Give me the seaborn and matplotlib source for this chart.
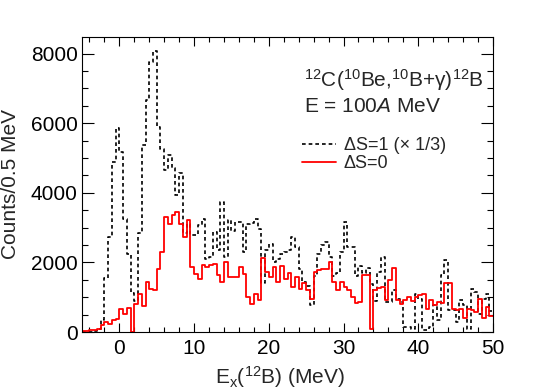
import numpy as np
import pandas as pd
import seaborn as sns
import matplotlib
matplotlib.use("Agg")
import matplotlib.pyplot as plt
from matplotlib.lines import Line2D
from matplotlib.ticker import MultipleLocator

# ---- data (counts per 0.5 MeV bin, bins from -5 to 50 MeV) ----
x_min, x_max, bin_w = -5.0, 50.0, 0.5

ds1_scaled = [0, 0, 0, 30, 100, 340, 1540, 2730, 4880, 5870,
              5170, 3260, 2230, 1110, 900, 2835, 5365, 6655, 7760, 8075,
              5890, 5270, 4645, 5080, 4700, 3930, 4560, 2835, 3100, 2800,
              2800, 3065, 3257, 2110, 2150, 2880, 2370, 3736, 2165, 3210,
              2900, 3165, 3165, 2300, 3100, 3120, 3260, 2950, 1400, 2350,
              2540, 2010, 2100, 2250, 2300, 2350, 2735, 2450, 1800, 1450,
              1320, 768, 1600, 2250, 2490, 2580, 2150, 1600, 1700, 2300,
              3165, 2450, 2450, 1600, 1900, 1700, 1850, 1390, 900, 1725,
              2155, 863, 863, 1197, 958, 863, 144, 144, 96, 1102,
              958, 49, 49, 144, 767, 336, 1630, 2060, 623, 623,
              300, 910, 767, 96, 1245, 1150, 527, 958, 1100, 600]

ds0 = [30, 30, 50, 60, 100, 190, 290, 240, 335, 385,
       670, 526, 700, 0, 800, 1100, 750, 1450, 1250, 1200,
       1800, 2300, 3305, 3113, 3353, 3448, 3113, 2730, 3210, 1868,
       1676, 1533, 1916, 1868, 1916, 1964, 1628, 1437, 2011, 1580,
       1580, 1580, 1868, 1676, 1006, 815, 1102, 910, 2136, 1724,
       1580, 1868, 1437, 1900, 1533, 1700, 1293, 1580, 1250, 1400,
       1200, 958, 1724, 1772, 1800, 1800, 2011, 1437, 1198, 1437,
       1293, 1198, 1006, 840, 850, 1650, 1650, 100, 1197, 1274,
       1293, 930, 1503, 1848, 910, 815, 910, 1006, 891, 1006,
       1054, 1102, 670, 910, 767, 863, 834, 1408, 1408, 670,
       642, 670, 412, 670, 623, 575, 958, 412, 718, 450]

n_bins = len(ds0)
centers = x_min + bin_w * (np.arange(n_bins) + 0.5)
df1 = pd.DataFrame({"Ex": centers, "counts": np.asarray(ds1_scaled, dtype=float)})
df0 = pd.DataFrame({"Ex": centers, "counts": np.asarray(ds0, dtype=float)})

# ---- style ----
sns.set_style("ticks")
plt.rcParams['font.family'] = ['Liberation Sans', 'DejaVu Sans']
plt.rcParams['mathtext.fontset'] = 'custom'
plt.rcParams['mathtext.rm'] = 'Liberation Sans'
plt.rcParams['mathtext.it'] = 'Liberation Sans:italic'
plt.rcParams['mathtext.bf'] = 'Liberation Sans:bold'

W, H = 540, 389
fig = plt.figure(figsize=(W / 100, H / 100), dpi=100)
L, R, T, B = 82, 493, 37, 332
ax = fig.add_axes([L / W, 1 - B / H, (R - L) / W, (B - T) / H])

dash = (0, (2.2, 1.8))
sns.histplot(data=df1, x="Ex", weights="counts", binwidth=bin_w, binrange=(x_min, x_max),
             element="step", fill=False, color="black", linewidth=1.2,
             linestyle=dash, ax=ax)
sns.histplot(data=df0, x="Ex", weights="counts", binwidth=bin_w, binrange=(x_min, x_max),
             element="step", fill=False, color="#ff0000", linewidth=1.3, ax=ax)

ax.set_xlim(x_min, x_max)
ax.set_ylim(0, 1.05 * max(ds1_scaled))
ax.set_xlabel("")
ax.set_ylabel("")

ax.xaxis.set_major_locator(MultipleLocator(10))
ax.xaxis.set_minor_locator(MultipleLocator(2))
ax.yaxis.set_major_locator(MultipleLocator(2000))
ax.yaxis.set_minor_locator(MultipleLocator(500))
ax.tick_params(axis='both', which='both', direction='in', top=True, right=True,
               width=0.8, colors='black')
ax.tick_params(axis='x', which='major', length=6.5, pad=5, labelsize=15)
ax.tick_params(axis='x', which='minor', length=3.3)
ax.tick_params(axis='y', which='major', length=8.6, pad=3, labelsize=15)
ax.tick_params(axis='y', which='minor', length=4.3)
for s in ax.spines.values():
    s.set_visible(True)
    s.set_linewidth(0.8)
    s.set_color('black')

fig.text(280 / W, 1 - 377 / H, r"E$_{\rm x}$($^{12}$B) (MeV)", ha='center', va='center', fontsize=15)
fig.text(11 / W, 1 - 184 / H, "Counts/0.5 MeV", ha='center', va='center', rotation=90, fontsize=15)

fig.text(304 / W, 1 - 80 / H, r"$^{12}$C($^{10}$Be,$^{10}$B+γ)$^{12}$B", ha='left', va='center', fontsize=15)
fig.text(304 / W, 1 - 107 / H, r"E = 100$\it{A}$ MeV", ha='left', va='center', fontsize=15)

handles = [Line2D([], [], color='black', linewidth=1.2, linestyle=dash),
           Line2D([], [], color='#ff0000', linewidth=1.3)]
ax.legend(handles, ["ΔS=1 (× 1/3)", "ΔS=0"], frameon=False, fontsize=13,
          loc='upper left', bbox_to_anchor=(302 / W, 1 - 137 / H),
          bbox_transform=fig.transFigure, borderpad=0, handlelength=1.9,
          handletextpad=0.4, labelspacing=0.05, borderaxespad=0)

fig.savefig("out.png", dpi=100)
